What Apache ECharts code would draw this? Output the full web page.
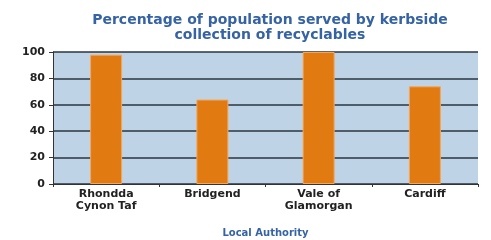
<!DOCTYPE html>
<html>
<head>
<meta charset="utf-8">
<script src="https://cdn.jsdelivr.net/npm/echarts@6/dist/echarts.min.js"></script>
<style>
html,body{margin:0;padding:0;background:#fff;}
#main{width:491px;height:240px;}
</style>
</head>
<body>
<div id="main"></div>
<script>
var authorities = ['Rhondda\nCynon Taf', 'Bridgend', 'Vale of\nGlamorgan', 'Cardiff'];
var served = [98, 64, 100, 74];
var yTicks = [0, 20, 40, 60, 80, 100];

var myChart = echarts.init(document.getElementById('main'));

var option = {
    backgroundColor: '#fff',
    animation: false,
    title: {
        text: 'Percentage of population served by kerbside\ncollection of recyclables',
        left: 265,
        textAlign: 'center',
        top: 8,
        textStyle: {
            fontFamily: 'DejaVu Sans',
            fontWeight: 'bold',
            fontSize: 14,
            lineHeight: 15,
            color: '#3563a3'
        }
    },
    grid: {
        left: 53,
        right: 13,
        top: 52,
        bottom: 56,
        outerBoundsMode: 'none',
        containLabel: false,
        show: true,
        backgroundColor: '#bfd3e6',
        borderWidth: 0
    },
    xAxis: {
        type: 'category',
        data: authorities,
        name: 'Local Authority',
        nameLocation: 'middle',
        nameGap: 44,
        nameTextStyle: {
            color: '#3563a3',
            fontFamily: 'DejaVu Sans',
            fontWeight: 'bold',
            fontSize: 10
        },
        axisLine: { lineStyle: { color: '#333', width: 1 } },
        axisTick: { show: true, length: 3, lineStyle: { color: '#333' } },
        axisLabel: {
            color: '#222',
            fontFamily: 'DejaVu Sans',
            fontWeight: 'bold',
            fontSize: 11,
            lineHeight: 12,
            margin: 4
        }
    },
    yAxis: {
        type: 'value',
        min: yTicks[0],
        max: yTicks[yTicks.length - 1],
        interval: 20,
        axisLine: { show: true, lineStyle: { color: '#333', width: 1 } },
        axisTick: { show: true, length: 4, lineStyle: { color: '#333' } },
        axisLabel: {
            color: '#222',
            fontFamily: 'DejaVu Sans',
            fontWeight: 'bold',
            fontSize: 11,
            margin: 8
        },
        splitLine: { show: true, lineStyle: { color: '#2a3440', width: 1.5 } }
    },
    series: [
        {
            type: 'bar',
            data: served,
            barWidth: 32,
            itemStyle: {
                color: '#e27a12',
                borderColor: '#f0a860',
                borderWidth: 1
            }
        }
    ]
};
myChart.setOption(option);
</script>
</body>
</html>
